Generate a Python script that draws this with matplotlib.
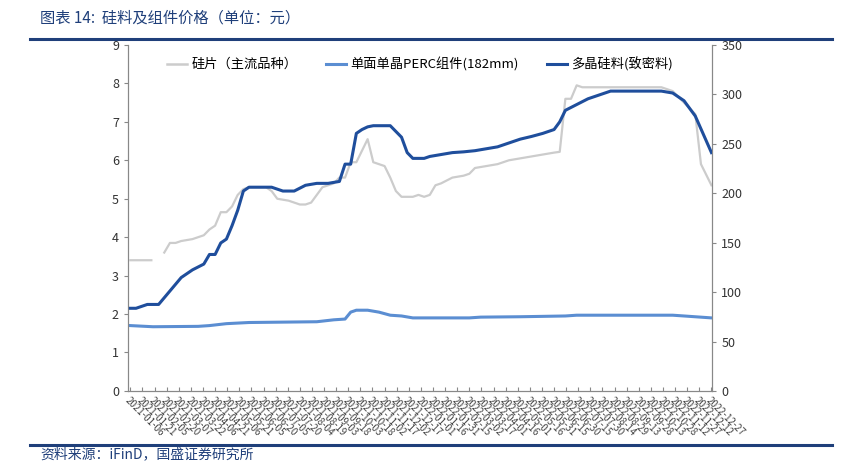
import numpy as np
import pandas as pd
import matplotlib
matplotlib.use('Agg')
import matplotlib.pyplot as plt
import matplotlib.dates as mdates
from matplotlib.lines import Line2D

plt.rcParams['font.family'] = ['Noto Sans CJK SC', 'DejaVu Sans']

# 多晶硅料 (read in left-axis units, converted to right axis below)
poly_dates = ['2021-01-06','2021-01-13','2021-01-27','2021-02-10','2021-02-24','2021-03-10','2021-03-24',
              '2021-04-07','2021-04-14','2021-04-21','2021-04-28','2021-05-05','2021-05-12','2021-05-19',
              '2021-05-26','2021-06-02','2021-06-30','2021-07-14','2021-07-28','2021-08-11','2021-08-25',
              '2021-09-08','2021-09-22','2021-09-29','2021-10-06','2021-10-13','2021-10-20','2021-10-27',
              '2021-11-03','2021-11-24','2021-12-08','2021-12-15','2021-12-22','2022-01-05','2022-01-12',
              '2022-01-26','2022-02-09','2022-02-23','2022-03-09','2022-03-23','2022-04-06','2022-04-20',
              '2022-05-04','2022-05-18','2022-06-01','2022-06-15','2022-06-22','2022-06-29','2022-07-13',
              '2022-07-27','2022-08-10','2022-08-24','2022-10-26','2022-11-09','2022-11-23','2022-12-07',
              '2022-12-27']
poly_left = [2.15,2.15,2.25,2.25,2.6,2.95,3.15,3.3,3.55,3.55,3.85,3.95,4.3,4.7,5.2,5.3,5.3,5.2,5.2,5.35,
             5.4,5.4,5.45,5.9,5.9,6.7,6.8,6.87,6.9,6.9,6.6,6.2,6.05,6.05,6.1,6.15,6.2,6.22,6.25,6.3,6.35,
             6.45,6.55,6.62,6.7,6.8,7.0,7.3,7.45,7.6,7.7,7.8,7.8,7.75,7.55,7.15,6.2]
poly_vals = [v * 350 / 9 for v in poly_left]

# 硅片（主流品种）
wafer_dates = ['2021-01-06','2021-02-01','2021-02-08','2021-02-17','2021-02-24','2021-03-03','2021-03-10',
               '2021-03-24','2021-04-07','2021-04-14','2021-04-21','2021-04-28','2021-05-05','2021-05-12',
               '2021-05-19','2021-05-26','2021-06-02','2021-06-23','2021-06-30','2021-07-07','2021-07-21',
               '2021-08-04','2021-08-11','2021-08-18','2021-08-25','2021-09-01','2021-09-15','2021-09-22',
               '2021-09-29','2021-10-06','2021-10-13','2021-10-27','2021-11-03','2021-11-17','2021-11-24',
               '2021-12-01','2021-12-08','2021-12-22','2021-12-29','2022-01-05','2022-01-12','2022-01-19',
               '2022-01-26','2022-02-09','2022-02-23','2022-03-02','2022-03-09','2022-03-23','2022-04-06',
               '2022-04-20','2022-05-04','2022-05-18','2022-06-01','2022-06-15','2022-06-22','2022-06-29',
               '2022-07-06','2022-07-13','2022-07-20','2022-10-26','2022-11-09','2022-11-23','2022-12-07',
               '2022-12-14','2022-12-27']
wafer_vals = [3.4,3.4,np.nan,3.6,3.85,3.85,3.9,3.95,4.05,4.2,4.3,4.65,4.65,4.8,5.1,5.25,5.3,5.3,5.2,5.0,
              4.95,4.85,4.85,4.9,5.1,5.3,5.4,5.55,5.55,5.95,5.95,6.55,5.95,5.85,5.55,5.2,5.05,5.05,5.1,
              5.05,5.1,5.35,5.4,5.55,5.6,5.65,5.8,5.85,5.9,6.0,6.05,6.1,6.15,6.2,6.22,7.6,7.6,7.95,7.9,
              7.9,7.8,7.5,7.2,5.9,5.35]

# 单面单晶PERC组件(182mm)
mod_dates = ['2021-01-06','2021-02-03','2021-03-31','2021-04-14','2021-05-05','2021-06-02','2021-08-25',
             '2021-09-15','2021-09-29','2021-10-06','2021-10-13','2021-10-27','2021-11-10','2021-11-24',
             '2021-12-08','2021-12-22','2022-03-02','2022-03-16','2022-05-04','2022-06-29','2022-07-13',
             '2022-11-09','2022-11-23','2022-12-27']
mod_vals = [1.7,1.67,1.68,1.7,1.75,1.78,1.8,1.85,1.87,2.05,2.1,2.1,2.05,1.97,1.95,1.9,1.9,1.92,1.93,
            1.95,1.97,1.97,1.95,1.9]

tick_dates = pd.date_range('2021-01-06', '2022-12-27', freq='15D')

fig = plt.figure(figsize=(8.53, 4.71), dpi=100)
ax = fig.add_axes([0.150, 0.170, 0.685, 0.7345])
ax2 = ax.twinx()

c_wafer = '#cccccc'
c_mod = '#5b8ed2'
c_poly = '#1f4e9c'
ax.plot(pd.to_datetime(wafer_dates), wafer_vals, color=c_wafer, lw=1.6, zorder=2)
ax.plot(pd.to_datetime(mod_dates), mod_vals, color=c_mod, lw=2.2, zorder=3)
ax2.plot(pd.to_datetime(poly_dates), poly_vals, color=c_poly, lw=2.2, zorder=4)

xmin, xmax = pd.Timestamp('2021-01-03'), pd.Timestamp('2022-12-28')
ax.set_xlim(xmin, xmax)
ax.set_ylim(0, 9)
ax.set_yticks(range(0, 10))
ax2.set_ylim(0, 350)
ax2.set_yticks(range(0, 351, 50))
ax.set_xticks(tick_dates)
ax.set_xticklabels([d.strftime('%Y-%m-%d') for d in tick_dates], rotation=-45, ha='left',
                   rotation_mode='anchor', fontsize=7, color='#444444')
for a in (ax, ax2):
    a.spines['top'].set_visible(False)
    for s in ('left', 'right', 'bottom'):
        a.spines[s].set_color('#888888')
        a.spines[s].set_linewidth(0.8)
    a.tick_params(axis='y', labelsize=9, colors='#333333', length=3, color='#888888')
ax.tick_params(axis='x', length=3, direction='in', color='#888888')

handles = [Line2D([], [], color=c_wafer, lw=1.8), Line2D([], [], color=c_mod, lw=2.2),
           Line2D([], [], color=c_poly, lw=2.2)]
ax.legend(handles, ['硅片（主流品种）', '单面单晶PERC组件(182mm)', '多晶硅料(致密料)'], loc='upper center',
          bbox_to_anchor=(0.5, 1.0), ncol=3, frameon=False, fontsize=9.5, handlelength=1.5,
          columnspacing=2.2, handletextpad=0.3)

fig.text(0.047, 0.962, '图表 14:  硅料及组件价格（单位：元）', fontsize=11, color='#1f3f7a',
         style='italic', va='center')
fig.add_artist(Line2D([0.035, 0.975], [0.918, 0.918], color='#1f3f7a', lw=2.2))
fig.add_artist(Line2D([0.035, 0.975], [0.055, 0.055], color='#1f3f7a', lw=2.2))
fig.text(0.047, 0.035, '资料来源：iFinD，国盛证券研究所', fontsize=10, color='#1f3f7a',
         style='italic', va='center')

fig.savefig('out.png', dpi=100)
